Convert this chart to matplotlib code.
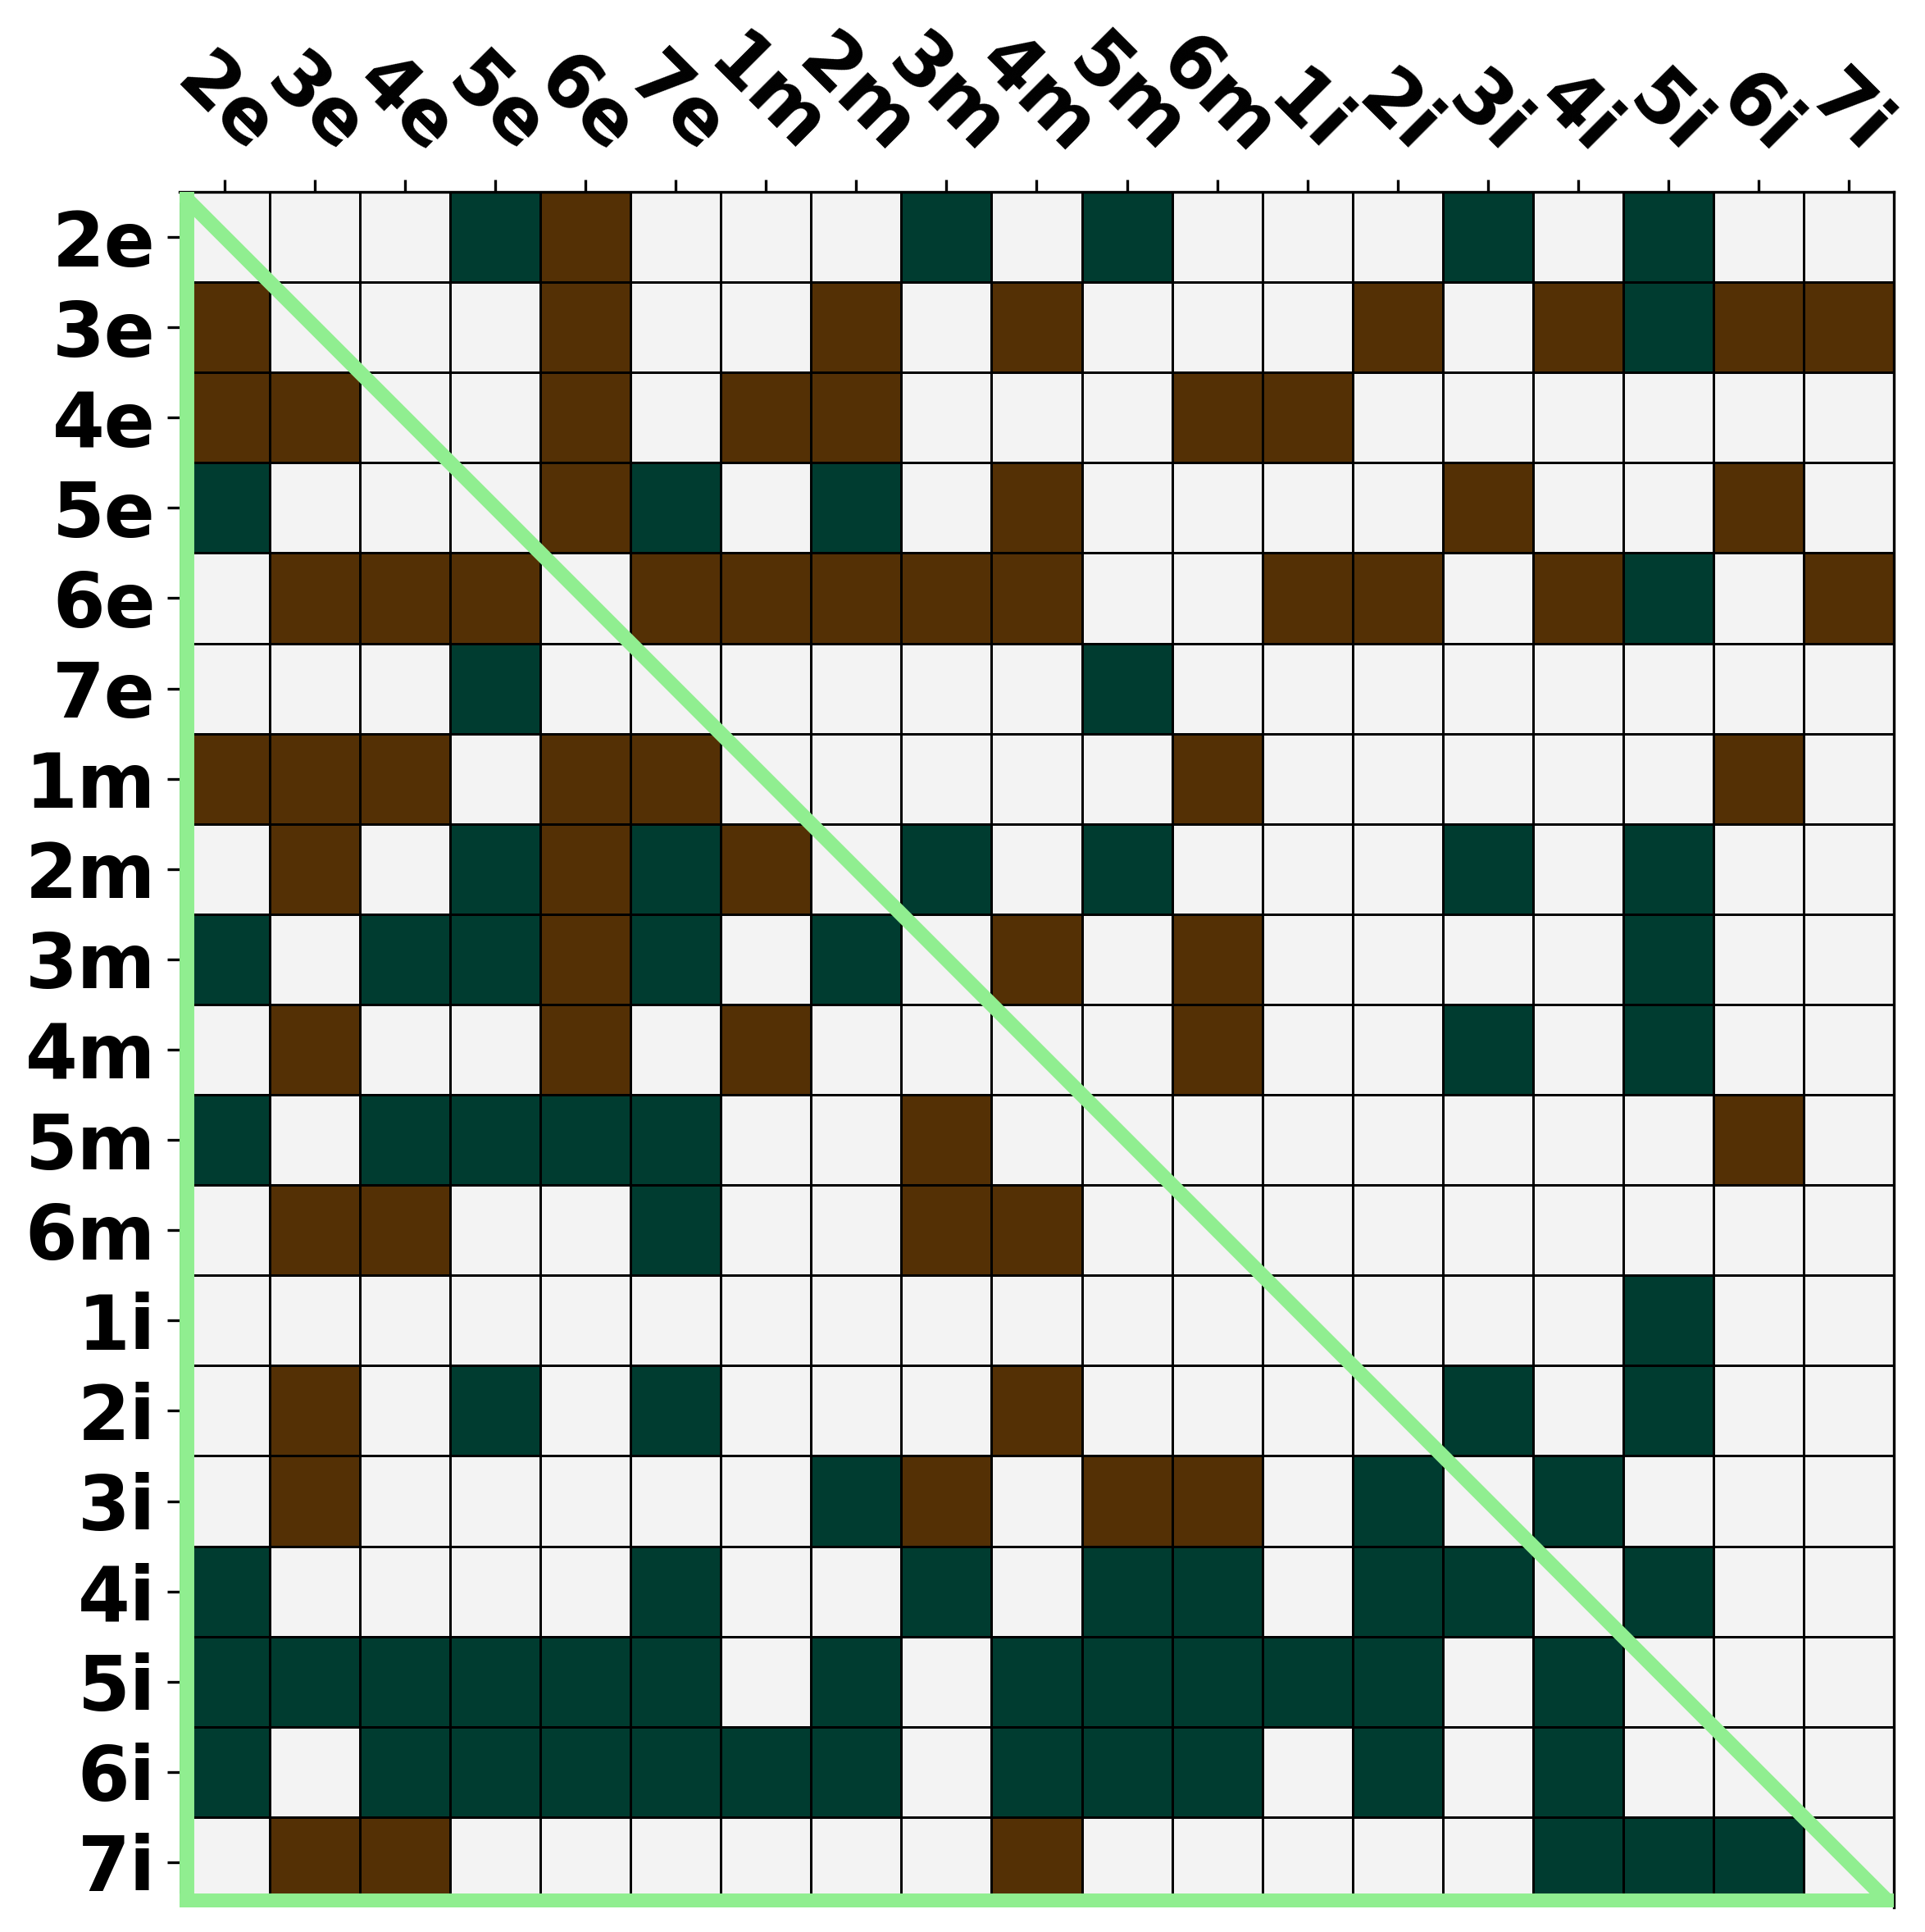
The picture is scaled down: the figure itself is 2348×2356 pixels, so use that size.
import numpy as np
import matplotlib
matplotlib.use("Agg")
import matplotlib.pyplot as plt
from matplotlib.colors import ListedColormap

labels = ["2e", "3e", "4e", "5e", "6e", "7e", "1m", "2m", "3m", "4m", "5m", "6m",
          "1i", "2i", "3i", "4i", "5i", "6i", "7i"]

# -1 = brown, 0 = neutral, 1 = green
row_2e = [0, 0, 0, 1, -1, 0, 0, 0, 1, 0, 1, 0, 0, 0, 1, 0, 1, 0, 0]
row_3e = [-1, 0, 0, 0, -1, 0, 0, -1, 0, -1, 0, 0, 0, -1, 0, -1, 1, -1, -1]
row_4e = [-1, -1, 0, 0, -1, 0, -1, -1, 0, 0, 0, -1, -1, 0, 0, 0, 0, 0, 0]
row_5e = [1, 0, 0, 0, -1, 1, 0, 1, 0, -1, 0, 0, 0, 0, -1, 0, 0, -1, 0]
row_6e = [0, -1, -1, -1, 0, -1, -1, -1, -1, -1, 0, 0, -1, -1, 0, -1, 1, 0, -1]
row_7e = [0, 0, 0, 1, 0, 0, 0, 0, 0, 0, 1, 0, 0, 0, 0, 0, 0, 0, 0]
row_1m = [-1, -1, -1, 0, -1, -1, 0, 0, 0, 0, 0, -1, 0, 0, 0, 0, 0, -1, 0]
row_2m = [0, -1, 0, 1, -1, 1, -1, 0, 1, 0, 1, 0, 0, 0, 1, 0, 1, 0, 0]
row_3m = [1, 0, 1, 1, -1, 1, 0, 1, 0, -1, 0, -1, 0, 0, 0, 0, 1, 0, 0]
row_4m = [0, -1, 0, 0, -1, 0, -1, 0, 0, 0, 0, -1, 0, 0, 1, 0, 1, 0, 0]
row_5m = [1, 0, 1, 1, 1, 1, 0, 0, -1, 0, 0, 0, 0, 0, 0, 0, 0, -1, 0]
row_6m = [0, -1, -1, 0, 0, 1, 0, 0, -1, -1, 0, 0, 0, 0, 0, 0, 0, 0, 0]
row_1i = [0, 0, 0, 0, 0, 0, 0, 0, 0, 0, 0, 0, 0, 0, 0, 0, 1, 0, 0]
row_2i = [0, -1, 0, 1, 0, 1, 0, 0, 0, -1, 0, 0, 0, 0, 1, 0, 1, 0, 0]
row_3i = [0, -1, 0, 0, 0, 0, 0, 1, -1, 0, -1, -1, 0, 1, 0, 1, 0, 0, 0]
row_4i = [1, 0, 0, 0, 0, 1, 0, 0, 1, 0, 1, 1, 0, 1, 1, 0, 1, 0, 0]
row_5i = [1, 1, 1, 1, 1, 1, 0, 1, 0, 1, 1, 1, 1, 1, 0, 1, 0, 0, 0]
row_6i = [1, 0, 1, 1, 1, 1, 1, 1, 0, 1, 1, 1, 0, 1, 0, 1, 0, 0, 0]
row_7i = [0, -1, -1, 0, 0, 0, 0, 0, 0, -1, 0, 0, 0, 0, 0, 1, 1, 1, 0]

matrix = np.array([row_2e, row_3e, row_4e, row_5e, row_6e, row_7e,
                   row_1m, row_2m, row_3m, row_4m, row_5m, row_6m,
                   row_1i, row_2i, row_3i, row_4i, row_5i, row_6i, row_7i])

n = len(labels)
cmap = ListedColormap(["#543005", "#f3f3f3", "#003c30"])

fig = plt.figure(figsize=(2348 / 300, 2356 / 300), dpi=300)
ax = fig.add_axes([219 / 2348, 1 - 2326 / 2356, 2091 / 2348, 2092 / 2356])

ax.pcolormesh(np.arange(n + 1), np.arange(n + 1), matrix, cmap=cmap,
              vmin=-1.5, vmax=1.5, edgecolors="black", linewidth=0.7)
ax.set_xlim(0, n)
ax.set_ylim(n, 0)

ax.set_xticks(np.arange(n) + 0.5)
ax.set_yticks(np.arange(n) + 0.5)
ax.set_xticklabels(labels, rotation=-45, fontsize=22, fontweight="bold")
ax.set_yticklabels(labels, fontsize=22, fontweight="bold")
ax.tick_params(top=True, bottom=False, labeltop=True, labelbottom=False)

ax.spines["left"].set_visible(False)
ax.spines["bottom"].set_visible(False)

green = "#90ee90"
lw = 4.3
ax.plot([0, n], [0, n], color=green, lw=lw, solid_capstyle="projecting", zorder=5)
ax.plot([0.084, 0.084], [0, n], color=green, lw=lw, solid_capstyle="projecting", zorder=5)
ax.plot([0, n], [n - 0.077, n - 0.077], color=green, lw=lw, solid_capstyle="projecting", zorder=5)

fig.savefig("out.png", dpi=300)
